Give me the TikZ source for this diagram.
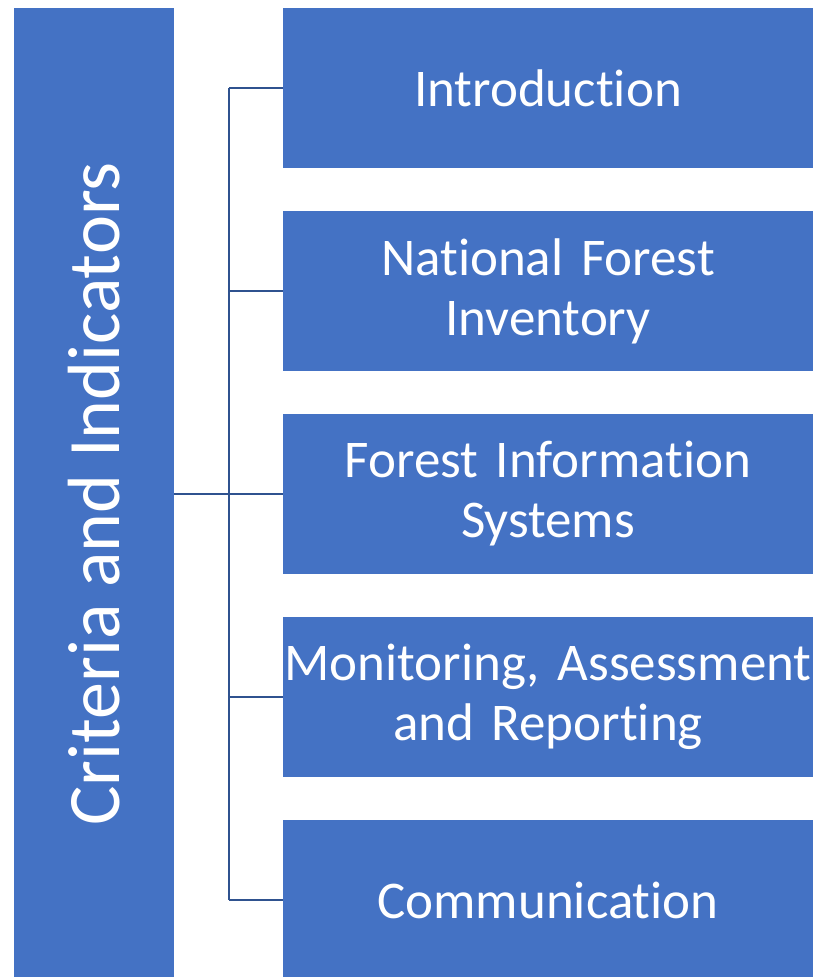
\documentclass[tikz,border=0pt]{standalone}
\usepackage{fontspec}
\setmainfont{Carlito}[Ligatures=NoCommon]
\definecolor{boxblue}{HTML}{4472C4}
\definecolor{lineblue}{HTML}{2F528F}
\begin{document}
\begin{tikzpicture}[x=1pt,y=-1pt,
  item/.style={fill=boxblue, draw=none, minimum width=530pt, minimum height=160pt,
    text width=528pt, align=center, text=white, inner sep=0pt,
    font=\fontsize{53}{60}\selectfont},
  side/.style={fill=boxblue, draw=none, minimum width=160pt, minimum height=972pt,
    inner sep=0pt, text=white, font=\fontsize{74}{80}\selectfont},
  link/.style={draw=lineblue, line width=2.2pt}]
\useasboundingbox (0,0) rectangle (816,977);
\node[side] (L) at (94,494) {\rotatebox{90}{Criteria and Indicators}};
\node[item] (B1) at (548,88) {Introduction};
\node[item] (B2) at (548,291) {National Forest\\Inventory};
\node[item] (B3) at (548,494) {Forest Information\\Systems};
\node[item] (B4) at (548,697) {Monitoring, Assessment\\and Reporting};
\node[item] (B5) at (548,900) {Communication};
\coordinate (J) at (229,494);
\draw[link] (L.east) -- (B3.west);
\draw[link] (J |- B1.west) -- (J |- B5.west);
\foreach \b in {B1,B2,B4,B5} {\draw[link] (J |- \b.west) -- (\b.west);}
\end{tikzpicture}
\end{document}
